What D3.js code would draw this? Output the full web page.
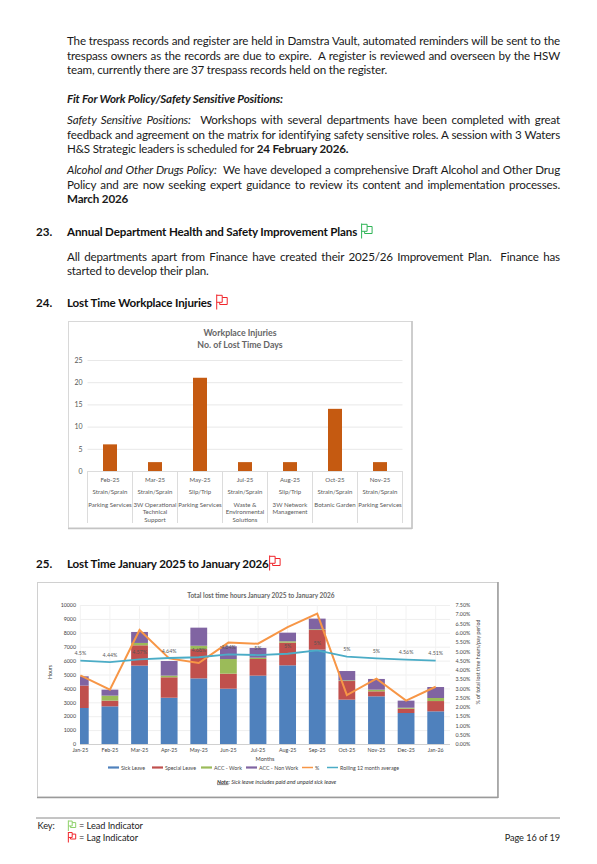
<!DOCTYPE html>
<html><head><meta charset="utf-8">
<script src="https://cdnjs.cloudflare.com/ajax/libs/d3/7.8.5/d3.min.js"></script>
<style>
html,body{margin:0;padding:0;background:#fff}
svg{display:block}
text{font-family:Lato,"Noto Sans",sans-serif}
</style></head><body>
<svg id="page" width="597" height="864"></svg>
<script>
// ---- Workplace injuries chart data
const injuryMonths = ["Feb-25","Mar-25","May-25","Jul-25","Aug-25","Oct-25","Nov-25"];
const injuryTypes = ["Strain/Sprain","Strain/Sprain","Slip/Trip","Strain/Sprain","Slip/Trip","Strain/Sprain","Strain/Sprain"];
const injuryDepts = [["Parking Services"],["3W Operational","Technical","Support"],["Parking Services"],["Waste &","Environmental","Solutions"],["3W Network","Management"],["Botanic Garden"],["Parking Services"]];
const injuryDays = [6,2,21,2,2,14,2];
const injuryTicks = [0,5,10,15,20,25];
// ---- Lost time chart data
const months = ["Jan-25","Feb-25","Mar-25","Apr-25","May-25","Jun-25","Jul-25","Aug-25","Sep-25","Oct-25","Nov-25","Dec-25","Jan-26"];
const sickLeave = [2590,2710,5640,3330,4720,3980,4920,5660,6790,3190,3430,2230,2350];
const specialLeave = [1610,410,1460,1470,2110,1080,1195,1630,1410,1340,360,310,740];
const accWork = [0,360,170,120,240,1055,95,100,50,50,120,70,220];
const accNonWork = [670,430,790,1050,1300,915,700,620,770,670,770,510,790];
const percentLost = [3.70,2.93,6.15,4.62,4.37,5.47,5.41,6.31,7.03,2.64,3.53,2.34,3.09];
const rolling = [4.50,4.42,4.57,4.64,4.68,4.84,4.80,4.87,5.05,4.71,4.62,4.55,4.50];
const rollingLabels = ["4.5%","4.44%","4.57%","4.64%","4.68%","4.84%","5%","5%","5%","5%","5%","4.56%","4.51%"];
const hourTicks = [0,1000,2000,3000,4000,5000,6000,7000,8000,9000,10000];
const percentTicks = [0,0.5,1,1.5,2,2.5,3,3.5,4,4.5,5,5.5,6,6.5,7,7.5];
const stackNames = ["Sick Leave","Special Leave","ACC - Work","ACC - Non Work"];
const stackColors = ["#4f81bd","#c0504d","#9bbb59","#8064a2"];
const percentColor = "#f79646", rollingColor = "#4bacc6";
// ---- Page text: r regular, b bold, i italic, bi bold italic
const pageLines = [
 {y:45,j:1,s:[["r","The trespass records and register are held in Damstra Vault, automated reminders will be sent to the"]]},
 {y:59.5,j:1,s:[["r","trespass owners as the records are due to expire.  A register is reviewed and overseen by the HSW"]]},
 {y:74,s:[["r","team, currently there are 37 trespass records held on the register."]]},
 {y:103,s:[["bi","Fit For Work Policy/Safety Sensitive Positions:"]]},
 {y:124,j:1,s:[["i","Safety Sensitive Positions:"],["r","  Workshops with several departments have been completed with great"]]},
 {y:138.5,j:1,s:[["r","feedback and agreement on the matrix for identifying safety sensitive roles. A session with 3 Waters"]]},
 {y:153,s:[["r","H&S Strategic leaders is scheduled for "],["b","24 February 2026."]]},
 {y:174,j:1,s:[["i","Alcohol and Other Drugs Policy:"],["r","  We have developed a comprehensive Draft Alcohol and Other Drug"]]},
 {y:188.5,j:1,s:[["r","Policy and are now seeking expert guidance to review its content and implementation processes."]]},
 {y:203,s:[["b","March 2026"]]},
 {y:260.5,j:1,s:[["r","All departments apart from Finance have created their 2025/26 Improvement Plan.  Finance has"]]},
 {y:275,s:[["r","started to develop their plan."]]}
];
const headings = [
 {y:236,n:"23.",t:"Annual Department Health and Safety Improvement Plans",flag:"#2fb457",gap:4},
 {y:307,n:"24.",t:"Lost Time Workplace Injuries",flag:"#f0262c",gap:4.5},
 {y:568,n:"25.",t:"Lost Time January 2025 to January 2026",flag:"#f0262c",gap:0.5}
];

const svg = d3.select("#page");
const styles = {r:["400","normal"],b:["700","normal"],i:["400","italic"],bi:["700","italic"]};
const fontSize = 11.6, textLeft = 67, textRight = 560, track = -0.16;

function flag(x,y,color,k){
  svg.append("path").attr("transform",`translate(${x},${y}) scale(${k})`)
    .attr("d","M0.5,0V15M0.5,0.8H6V7.8H0.5M6,3H11V10H3.5V7.8")
    .attr("fill","none").attr("stroke",color).attr("stroke-width",1/k);
}
pageLines.forEach(l=>{
  const t = svg.append("text").attr("x",textLeft).attr("y",l.y).attr("letter-spacing",track)
     .attr("font-size",fontSize).attr("fill","#1a1a1a").attr("xml:space","preserve").style("white-space","pre");
  l.s.forEach(([k,str])=>t.append("tspan").attr("font-weight",styles[k][0]).attr("font-style",styles[k][1]).text(str));
  if(l.j){
    const full = l.s.map(d=>d[1]).join("");
    const gaps = (full.match(/ /g)||[]).length;
    t.attr("word-spacing",(textRight-textLeft-t.node().getComputedTextLength())/gaps);
  }
});
headings.forEach(h=>{
  svg.append("text").attr("x",36).attr("y",h.y).attr("font-size",fontSize).attr("font-weight",700).attr("fill","#111").text(h.n);
  const t = svg.append("text").attr("x",67).attr("y",h.y).attr("letter-spacing",track).attr("font-size",fontSize).attr("font-weight",700).attr("fill","#111").text(h.t);
  const end = 67+t.node().getComputedTextLength();
  flag(end+h.gap,h.y-12.5,h.flag,1);
});

// ---- Chart 1
svg.append("rect").attr("x",68.5).attr("y",321.5).attr("width",343.5).attr("height",206.5).attr("fill","#fff").attr("stroke","#d8d8d8");
svg.append("path").attr("d","M412,321V529M68,528.5H412").attr("stroke","#c4c4c4").attr("stroke-width",1.5).attr("fill","none");
const x1 = d3.scaleBand().domain(injuryMonths).range([87.5,402.5]);
const y1 = d3.scaleLinear().domain([0,25]).range([471,360]);
const g1 = svg.append("g");
g1.append("text").attr("x",240).attr("y",336).attr("text-anchor","middle").attr("font-size",8.8).attr("font-weight",700).attr("fill","#666").text("Workplace Injuries");
g1.append("text").attr("x",240).attr("y",348).attr("text-anchor","middle").attr("font-size",8.8).attr("font-weight",700).attr("fill","#666").text("No. of Lost Time Days");
const axL1 = g1.append("g").attr("transform","translate(87.5,0)").call(d3.axisLeft(y1).tickValues(injuryTicks).tickSize(-315).tickPadding(5));
axL1.select(".domain").remove();
axL1.selectAll("line").attr("stroke","#e8e8e8").attr("stroke-width",1);
axL1.selectAll("text").attr("font-size",7).attr("fill","#595959").style("font-family","Lato");
g1.selectAll(".bar").data(injuryDays).join("rect").attr("class","bar")
  .attr("x",(d,i)=>x1(injuryMonths[i])+x1.bandwidth()/2-7).attr("width",14)
  .attr("y",d=>y1(d)).attr("height",d=>y1(0)-y1(d)).attr("fill","#c55a11");
g1.append("line").attr("x1",87.5).attr("x2",402.5).attr("y1",471.5).attr("y2",471.5).attr("stroke","#dcdcdc");
const seps = [...injuryMonths.map(m=>x1(m)),402.5];
g1.selectAll(".sep").data(seps).join("line").attr("class","sep")
  .attr("x1",d=>d).attr("x2",d=>d).attr("y1",471).attr("y2",523).attr("stroke","#dcdcdc");
injuryMonths.forEach((m,i)=>{
  const cx = x1(m)+x1.bandwidth()/2;
  const put=(s,y)=>g1.append("text").attr("x",cx).attr("y",y).attr("text-anchor","middle").attr("font-size",6.1).attr("fill","#595959").text(s);
  put(m,481.5); put(injuryTypes[i],494);
  injuryDepts[i].forEach((s,j)=>put(s,506.5+j*7.8));
});

// ---- Chart 2
svg.append("rect").attr("x",37.5).attr("y",582.5).attr("width",460).attr("height",214.5).attr("fill","#fff").attr("stroke","#d0d0d0");
svg.append("path").attr("d","M498,582V798M37,797.5H498").attr("stroke","#9a9a9a").attr("stroke-width",1.5).attr("fill","none");
const x2 = d3.scaleBand().domain(months).range([65.5,450.5]);
const cx2 = m=>x2(m)+x2.bandwidth()/2;
const y2 = d3.scaleLinear().domain([0,10000]).range([744,605]);
const yP = d3.scaleLinear().domain([0,7.5]).range([744,605]);
const g2 = svg.append("g");
g2.append("text").attr("x",261).attr("y",598).attr("text-anchor","middle").attr("font-size",6.5).attr("font-weight",700).attr("fill","#666").text("Total lost time hours January 2025 to January 2026");
svg.append("clipPath").attr("id","plotClip").append("rect").attr("x",80).attr("y",600).attr("width",371).attr("height",145);
const axL2 = g2.append("g").attr("transform","translate(80,0)").call(d3.axisLeft(y2).tickValues(hourTicks).tickSize(-370).tickPadding(4).tickFormat(d3.format("d")));
axL2.select(".domain").remove();
axL2.selectAll("line").attr("stroke","#efefef");
axL2.selectAll("text").attr("font-size",5.3).attr("fill","#444").style("font-family","Lato");
const vgrid = g2.append("g");
vgrid.selectAll("line").data(months).join("line").attr("x1",cx2).attr("x2",cx2).attr("y1",605).attr("y2",744).attr("stroke","#f2f2f2");
const axR2 = g2.append("g").attr("transform","translate(450,0)").call(d3.axisRight(yP).tickValues(percentTicks).tickSize(0).tickPadding(5.5).tickFormat(d=>d.toFixed(2)+"%"));
axR2.select(".domain").remove();
axR2.selectAll("text").attr("font-size",5.3).attr("fill","#444").style("font-family","Lato");
const stackRows = months.map((m,i)=>({month:m,"Sick Leave":sickLeave[i],"Special Leave":specialLeave[i],"ACC - Work":accWork[i],"ACC - Non Work":accNonWork[i]}));
const stacked = d3.stack().keys(stackNames)(stackRows);
g2.append("g").attr("clip-path","url(#plotClip)").selectAll("g").data(stacked).join("g")
  .attr("fill",(d,i)=>stackColors[i])
  .selectAll("rect").data(d=>d).join("rect")
  .attr("x",d=>cx2(d.data.month)-8.4).attr("width",16.8)
  .attr("y",d=>y2(d[1])).attr("height",d=>y2(d[0])-y2(d[1]));
const axB2 = g2.append("g").attr("transform","translate(0,744)").call(d3.axisBottom(x2).tickSize(0).tickPadding(4));
axB2.select(".domain").attr("stroke","#d0d0d0").attr("d","M80,0.5H450");
axB2.selectAll("text").attr("font-size",5.3).attr("fill","#444").style("font-family","Lato");
const lineP = d3.line().x((d,i)=>cx2(months[i])).y(d=>yP(d));
g2.append("path").datum(percentLost).attr("d",lineP).attr("fill","none").attr("stroke",percentColor).attr("stroke-width",2);
g2.append("path").datum(rolling).attr("d",lineP).attr("fill","none").attr("stroke",rollingColor).attr("stroke-width",1.8);
g2.selectAll(".rl").data(rollingLabels).join("text").attr("class","rl")
  .attr("x",(d,i)=>cx2(months[i])).attr("y",(d,i)=>yP(rolling[i])-5.5).attr("text-anchor","middle")
  .attr("font-size",5.3).attr("fill","#555").text(d=>d);
g2.append("text").attr("x",265).attr("y",761).attr("text-anchor","middle").attr("font-size",5.6).attr("fill","#444").text("Months");
g2.append("text").attr("transform","translate(52,672) rotate(-90)").attr("text-anchor","middle").attr("font-size",5.3).attr("fill","#444").text("Hours");
g2.append("text").attr("transform","translate(480,662) rotate(-90)").attr("text-anchor","middle").attr("font-size",5.3).attr("fill","#444").text("% of total lost time hours/pay period");
const legend = [
 {n:"Sick Leave",c:stackColors[0],x:108,w:2.2},{n:"Special Leave",c:stackColors[1],x:152,w:2.2},
 {n:"ACC - Work",c:stackColors[2],x:201,w:2.2},{n:"ACC - Non Work",c:stackColors[3],x:246,w:2.2},
 {n:"%",c:percentColor,x:302,w:1.5},{n:"Rolling 12 month average",c:rollingColor,x:327,w:1.5}];
legend.forEach(l=>{
  g2.append("line").attr("x1",l.x).attr("x2",l.x+11).attr("y1",767.5).attr("y2",767.5).attr("stroke",l.c).attr("stroke-width",l.w);
  g2.append("text").attr("x",l.x+13).attr("y",769.5).attr("font-size",5.3).attr("fill","#444").text(l.n);
});
const note = g2.append("text").attr("x",217).attr("y",783.5).attr("font-size",5.6).attr("font-style","italic").attr("fill","#333");
note.append("tspan").attr("font-weight",700).attr("text-decoration","underline").text("Note");
note.append("tspan").text(": Sick leave includes paid and unpaid sick leave");

// ---- Footer
svg.append("line").attr("x1",36).attr("x2",560).attr("y1",818).attr("y2",818).attr("stroke","#8a8a8a");
const foot=(s,x,y,a)=>svg.append("text").attr("x",x).attr("y",y).attr("text-anchor",a||"start").attr("font-size",9.2).attr("letter-spacing",-0.05).attr("fill","#222").text(s);
foot("Key:",37.5,828.5); foot("= Lead Indicator",79,828.5); foot("= Lag Indicator",79,840.5); foot("Page 16 of 19",560,840.5,"end");
flag(68,820.5,"#8fd16a",0.7); flag(68,832,"#f0262c",0.7);
</script>
</body></html>
